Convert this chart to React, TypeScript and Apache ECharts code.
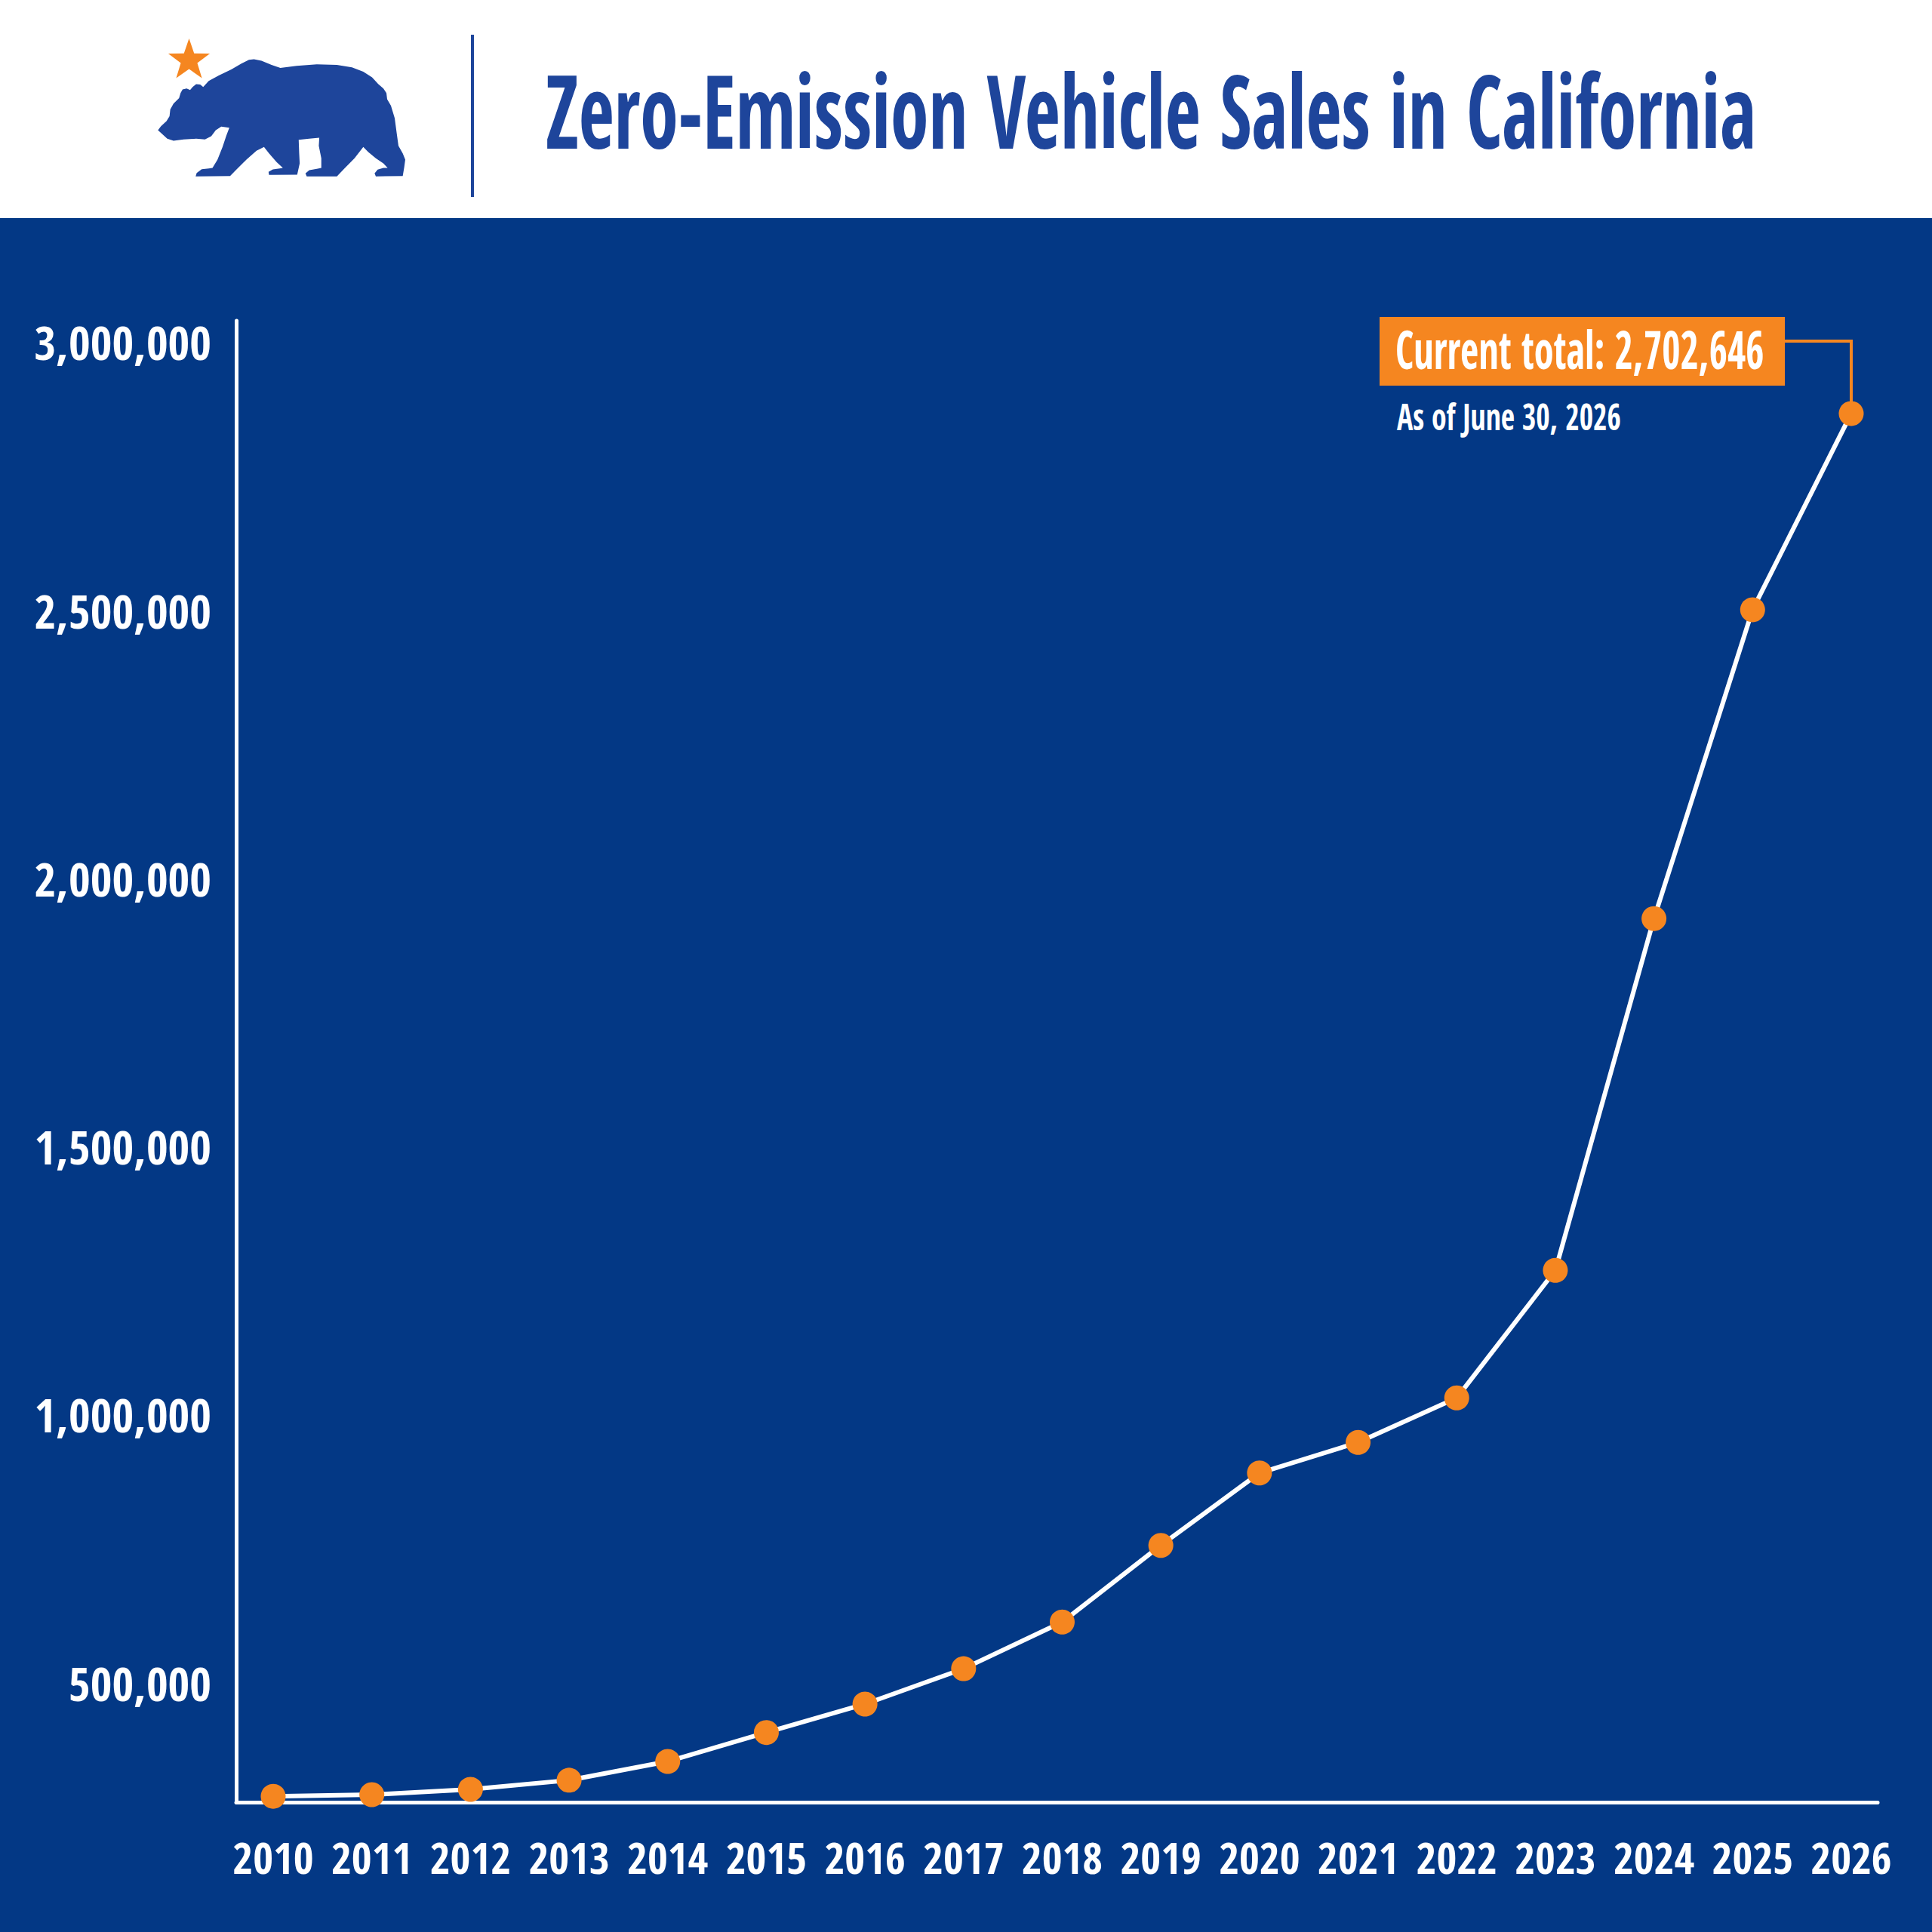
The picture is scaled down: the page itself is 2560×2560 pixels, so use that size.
import React, { useEffect, useRef } from "react";
import * as echarts from "echarts";

// ---- data ----
const years = [2010, 2011, 2012, 2013, 2014, 2015, 2016, 2017, 2018, 2019, 2020, 2021, 2022, 2023, 2024, 2025, 2026];
const zevTotals = [
  288000, 291000, 301000, 318000, 353000, 407000, 460000, 526000, 613000,
  756000, 891000, 948000, 1031000, 1269000, 1925000, 2501000, 2867000,
];
const yTickValues = [500000, 1000000, 1500000, 2000000, 2500000, 3000000];
const titleText = "Zero-Emission Vehicle Sales in California";
const currentTotalText = "Current total: 2,702,646";
const asOfText = "As of June 30, 2026";

// ---- styling ----
const BG_BLUE = "#033885";
const LOGO_BLUE = "#1E459B";
const ORANGE = "#F58620";
const FONT = "'Open Sans Condensed', 'Open Sans', sans-serif";

const BEAR_D =
  "M 88 428 L 100 412 L 122 392 L 134 372 L 137 345 L 150 322 L 172 300 L 178 280 L 186 266 L 202 262 L 216 268 " +
  "L 226 256 L 240 245 L 256 246 L 268 256 L 290 232 L 330 210 L 380 186 L 420 163 L 450 148 L 470 146 L 500 152 " +
  "L 540 168 L 575 180 L 640 172 L 720 166 L 800 168 L 860 178 L 905 195 L 940 218 L 965 245 L 985 262 L 997 280 " +
  "L 1000 305 L 1015 330 L 1030 380 L 1038 440 L 1045 490 L 1062 520 L 1072 545 L 1068 575 L 1062 610 L 955 612 " +
  "L 950 600 L 962 585 L 985 578 L 1002 578 L 985 560 L 955 540 L 925 515 L 905 495 L 870 540 L 830 580 L 800 612 " +
  "L 680 612 L 675 600 L 690 587 L 720 582 L 738 578 L 738 540 L 728 490 L 730 458 L 690 462 L 648 466 L 650 520 " +
  "L 652 560 L 642 605 L 530 606 L 528 594 L 545 584 L 572 580 L 585 578 L 560 555 L 530 520 L 510 495 L 480 510 " +
  "L 440 545 L 400 585 L 375 610 L 238 612 L 242 598 L 262 583 L 290 580 L 305 578 L 325 545 L 345 495 L 360 450 " +
  "L 372 418 L 340 414 L 318 428 L 300 452 L 275 465 L 240 462 L 190 465 L 150 470 L 125 462 Z";

let bearRegistered = false;

function measure(text: string, font: string): number {
  const ctx = document.createElement("canvas").getContext("2d")!;
  ctx.font = font;
  return ctx.measureText(text).width || 1;
}

function starPoints(cx: number, cy: number, R: number, r: number): number[][] {
  const pts: number[][] = [];
  for (let i = 0; i < 10; i++) {
    const rad = i % 2 === 0 ? R : r;
    const a = -Math.PI / 2 + (i * Math.PI) / 5;
    pts.push([cx + rad * Math.cos(a), cy + rad * Math.sin(a)]);
  }
  return pts;
}

export default function App() {
  const ref = useRef<HTMLDivElement>(null);
  useEffect(() => {
    if (!bearRegistered) {
      echarts.graphic.registerShape("bear", echarts.graphic.extendPath(BEAR_D, {}));
      bearRegistered = true;
    }
    const chart = echarts.init(ref.current!, null, { renderer: "svg" });
    chart.setOption({
      animation: false,
      backgroundColor: BG_BLUE,
      grid: { left: 313, right: 72, top: 425, bottom: 172, containLabel: false },
      xAxis: {
        type: "value",
        min: 2009.625,
        max: 2026.268,
        axisLine: { show: true, lineStyle: { color: "#ffffff", width: 5 } },
        axisTick: { show: false },
        splitLine: { show: false },
        axisLabel: {
          customValues: years,
          formatter: (v: number) => String(v),
          color: "#ffffff",
          fontFamily: "Open Sans Condensed",
          fontWeight: 600,
          fontSize: 58,
          margin: 43,
        },
      },
      yAxis: {
        type: "value",
        min: 277000,
        max: 3040000,
        axisLine: { show: true, lineStyle: { color: "#ffffff", width: 5 } },
        axisTick: { show: false },
        splitLine: { show: false },
        axisLabel: {
          customValues: yTickValues,
          formatter: (v: number) => v.toLocaleString("en-US"),
          color: "#ffffff",
          fontFamily: "Open Sans Condensed",
          fontWeight: 600,
          fontSize: 62,
          margin: 33,
        },
      },
      series: [
        {
          type: "line",
          data: years.map((y, i) => [y, zevTotals[i]]),
          symbol: "circle",
          symbolSize: 33,
          showSymbol: true,
          lineStyle: { color: "#ffffff", width: 6 },
          itemStyle: { color: ORANGE, borderWidth: 0 },
          z: 5,
        },
      ],
    });

    const last = years.length - 1;
    const [px, py] = chart.convertToPixel({ seriesIndex: 0 }, [years[last], zevTotals[last]]) as number[];

    const titleFont = `bold 136px ${FONT}`;
    const totalFont = `bold 71px ${FONT}`;
    const asOfFont = `500 49px ${FONT}`;
    const titleScale = 1604 / measure(titleText, titleFont);
    const totalScale = 489 / measure(currentTotalText, totalFont);
    const asOfScale = 297 / measure(asOfText, asOfFont);

    const boxLeft = 1828;
    const boxRight = 2365;
    const boxTop = 420;
    const boxBottom = 511;
    const connectorY = 452;

    chart.setOption({
      graphic: [
        { type: "rect", z: 0, shape: { x: 0, y: 0, width: 2560, height: 289 }, style: { fill: "#ffffff" } },
        { type: "bear", z: 1, x: 180, y: 30, scaleX: 1 / 3, scaleY: 1 / 3, style: { fill: LOGO_BLUE } },
        { type: "polygon", z: 1, shape: { points: starPoints(250.5, 80, 29, 11.5) }, style: { fill: ORANGE } },
        { type: "line", z: 1, shape: { x1: 626, y1: 46, x2: 626, y2: 261 }, style: { stroke: LOGO_BLUE, lineWidth: 4 } },
        {
          type: "text",
          z: 1,
          x: 723,
          y: 144,
          scaleX: titleScale,
          style: { text: titleText, font: titleFont, fill: LOGO_BLUE, align: "left", verticalAlign: "middle" },
        },
        {
          type: "polyline",
          z: 1,
          shape: { points: [[boxRight, connectorY], [px, connectorY], [px, py]] },
          style: { stroke: ORANGE, lineWidth: 4, fill: null },
        },
        {
          type: "rect",
          z: 1,
          shape: { x: boxLeft, y: boxTop, width: boxRight - boxLeft, height: boxBottom - boxTop },
          style: { fill: ORANGE },
        },
        {
          type: "text",
          z: 2,
          x: 1849,
          y: 461,
          scaleX: totalScale,
          style: { text: currentTotalText, font: totalFont, fill: "#ffffff", align: "left", verticalAlign: "middle" },
        },
        {
          type: "text",
          z: 2,
          x: 1851,
          y: 551,
          scaleX: asOfScale,
          style: { text: asOfText, font: asOfFont, fill: "#ffffff", align: "left", verticalAlign: "middle" },
        },
      ],
    });

    return () => chart.dispose();
  }, []);
  return <div ref={ref} style={{ position: "fixed", left: 0, top: 0, width: 2560, height: 2560 }} />;
}
